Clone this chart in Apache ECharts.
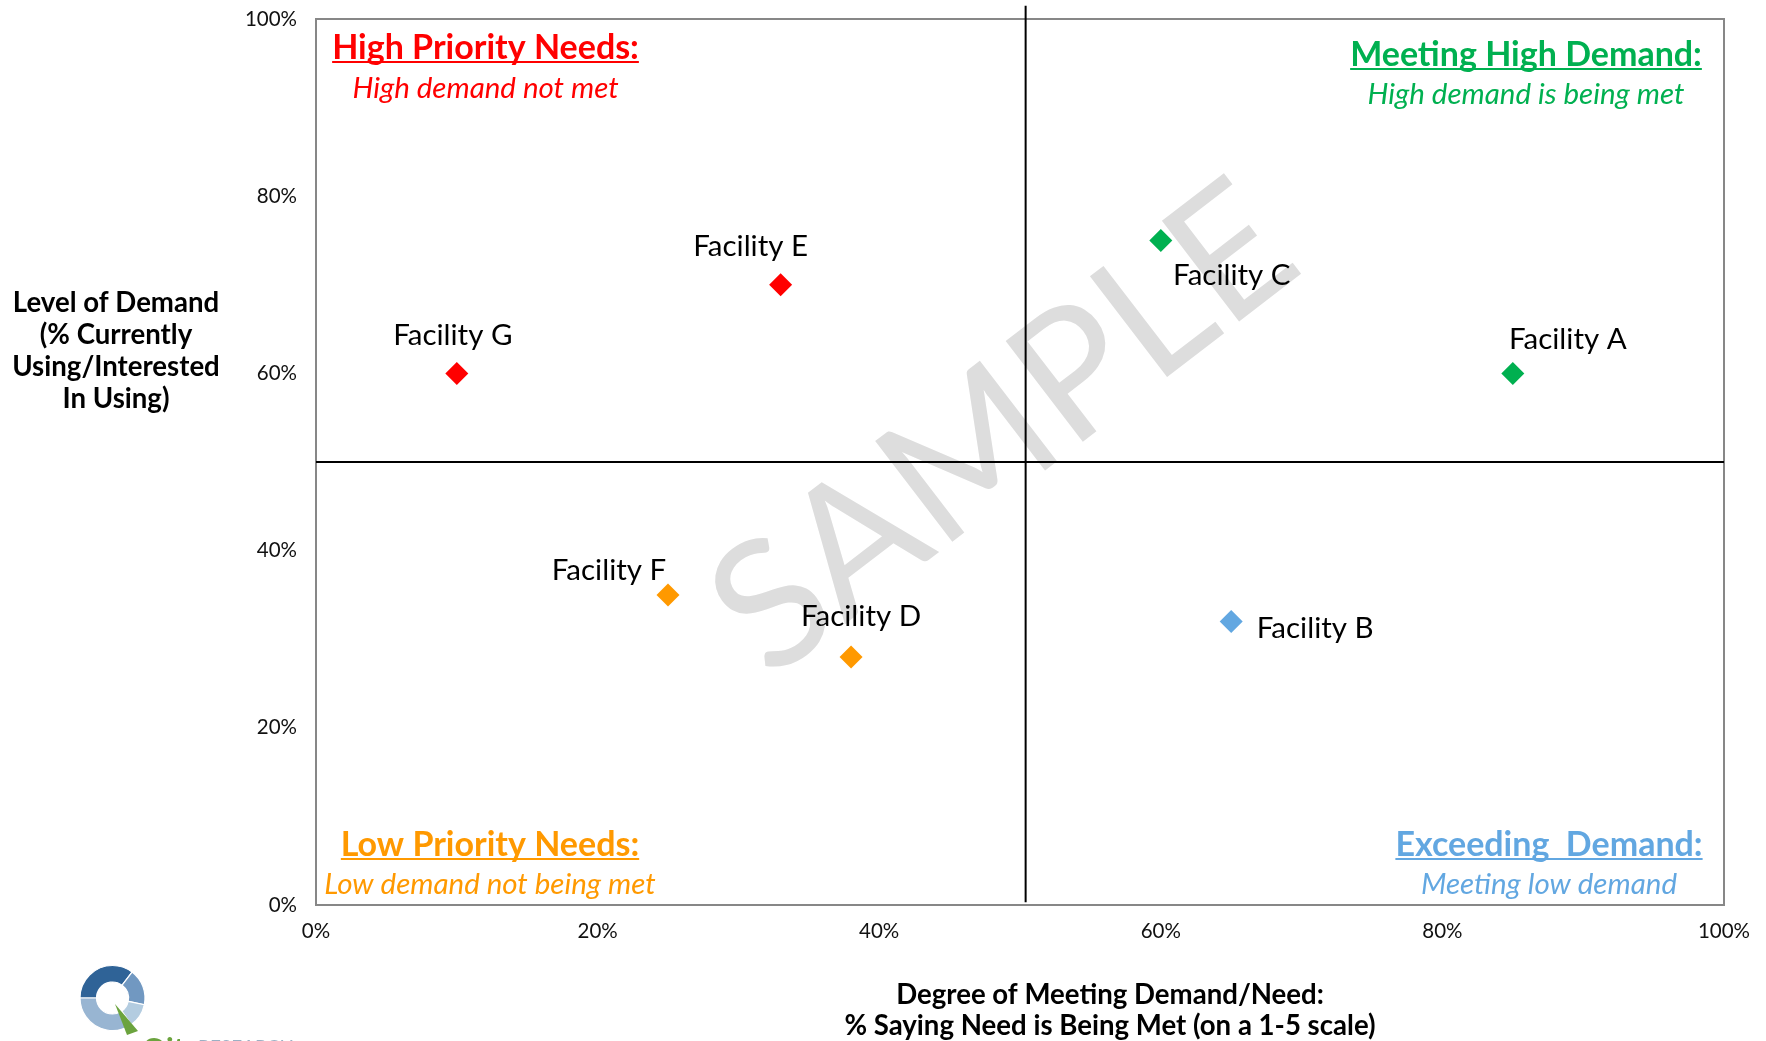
<!DOCTYPE html>
<html><head><meta charset="utf-8">
<script src="https://cdn.jsdelivr.net/npm/echarts@6/dist/echarts.min.js"></script>
<style>html,body{margin:0;padding:0;background:#fff}#chart{width:1766px;height:1041px}</style>
</head><body><div id="chart"></div>
<script>
// ---------------- DATA ----------------
const facilities = ['Facility A', 'Facility B', 'Facility C', 'Facility D', 'Facility E', 'Facility F', 'Facility G'];
const metPct     = [85, 65, 60, 38, 33, 25, 10];   // x: % saying need is being met
const demandPct  = [60, 32, 75, 28, 70, 35, 60];   // y: % currently using / interested
const tickValues = [0, 20, 40, 60, 80, 100];
const tickLabels = ['0%', '20%', '40%', '60%', '80%', '100%'];
const dividerMet = 50.4;
const dividerDemand = 50;
const dividerMetSpan = [0.3, 101.5];
const quadrantTitles    = ['High Priority Needs:', 'Meeting High Demand:', 'Low Priority Needs:', 'Exceeding  Demand:'];
const quadrantSubtitles = ['High demand not met', 'High demand is being met', 'Low demand not being met', 'Meeting low demand'];
const yAxisTitle = ['Level of Demand', '(% Currently', 'Using/Interested', 'In Using)'];
const xAxisTitle = ['Degree of Meeting Demand/Need:', '% Saying Need is Being Met (on a 1-5 scale)'];
const watermarkText = 'SAMPLE';
const logoWord = 'eQity';
const logoWord2 = 'RESEARCH';

// ---------------- STYLES ----------------
const FONT = 'Lato, "Open Sans", sans-serif';
const COLORS = { highUnmet: '#FF0000', highMet: '#00B050', lowUnmet: '#FF9900', lowMet: '#62A7E1' };
function quadColor(x, y) {
  if (y >= 50) return x >= 50 ? COLORS.highMet : COLORS.highUnmet;
  return x >= 50 ? COLORS.lowMet : COLORS.lowUnmet;
}
const LABEL_OFFSETS = [[55, -34], [84, 7], [71, 35], [10, -40], [-30, -38], [-59, -24], [-4, -38]];
const QUAD_LAYOUT = [
  { cx: 485.5, titleBase: 58,  subBase: 97,  color: COLORS.highUnmet },
  { cx: 1526,  titleBase: 65,  subBase: 103, color: COLORS.highMet },
  { cx: 490,   titleBase: 855, subBase: 893, color: COLORS.lowUnmet },
  { cx: 1549,  titleBase: 855, subBase: 893, color: COLORS.lowMet }
];
const TITLE_FS = 34, SUB_FS = 29.5, AXIS_TITLE_FS = 27.6, POINT_LABEL_FS = 29.5;
const MID_K = 0.29;

const measureCtx = document.createElement('canvas').getContext('2d');
function textWidth(str, font) { measureCtx.font = font; return measureCtx.measureText(str).width; }

// ---------------- GRAPHICS ----------------
const graphics = [];
// watermark
graphics.push({
  type: 'text', x: 1004, y: 430, rotation: 37.5 * Math.PI / 180, z: 1, silent: true,
  style: { text: watermarkText, font: '177px ' + FONT, fill: '#DDDDDD', align: 'center', verticalAlign: 'middle' }
});
// quadrant labels
QUAD_LAYOUT.forEach((q, i) => {
  const tFont = 'bold ' + TITLE_FS + 'px ' + FONT;
  const sFont = 'italic ' + SUB_FS + 'px ' + FONT;
  const w = textWidth(quadrantTitles[i], tFont);
  graphics.push({ type: 'text', x: q.cx, y: q.titleBase - MID_K * TITLE_FS, z: 10,
    style: { text: quadrantTitles[i], font: tFont, fill: q.color, align: 'center', verticalAlign: 'middle' } });
  graphics.push({ type: 'rect', z: 10, shape: { x: q.cx - w / 2, y: q.titleBase + 3, width: w, height: 2 },
    style: { fill: q.color } });
  graphics.push({ type: 'text', x: q.cx, y: q.subBase - MID_K * SUB_FS, z: 10,
    style: { text: quadrantSubtitles[i], font: sFont, fill: q.color, align: 'center', verticalAlign: 'middle' } });
});
// axis titles
const yTitleY = [303, 335, 367, 399];
yAxisTitle.forEach((t, i) => graphics.push({ type: 'text', x: 116, y: yTitleY[i], z: 10,
  style: { text: t, font: 'bold ' + AXIS_TITLE_FS + 'px ' + FONT, fill: '#000', align: 'center', verticalAlign: 'middle' } }));
const xTitleY = [995, 1026];
xAxisTitle.forEach((t, i) => graphics.push({ type: 'text', x: 1110, y: xTitleY[i], z: 10,
  style: { text: t, font: 'bold ' + AXIS_TITLE_FS + 'px ' + FONT, fill: '#000', align: 'center', verticalAlign: 'middle' } }));
// logo
const LOGO = { cx: 112.5, cy: 998, r: 32.5, r0: 16 };
const logoSegs = [[180, 307, '#2F6397'], [307, 372, '#7198C1'], [372, 415, '#B3CCE0'], [415, 540, '#98B5D2']];
logoSegs.forEach(s => graphics.push({ type: 'sector', z: 5, silent: true,
  shape: { cx: LOGO.cx, cy: LOGO.cy, r: LOGO.r, r0: LOGO.r0, startAngle: s[0] * Math.PI / 180, endAngle: s[1] * Math.PI / 180, clockwise: true },
  style: { fill: s[2], stroke: '#fff', lineWidth: 1.2 } }));
graphics.push({ type: 'polygon', z: 6, silent: true,
  shape: { points: [[115, 1004], [127, 1035], [138, 1031]] }, style: { fill: '#6BA33E' } });
graphics.push({ type: 'text', x: 126, y: 1035, z: 6, silent: true,
  style: { text: logoWord, font: 'bold 30px ' + FONT, fill: '#6BA33E', verticalAlign: 'top' } });
graphics.push({ type: 'text', x: 198, y: 1038, z: 6, silent: true,
  style: { text: logoWord2, font: '19px ' + FONT, fill: '#9BB0C4', verticalAlign: 'top' } });

// ---------------- CHART ----------------
const chart = echarts.init(document.getElementById('chart'), null, { renderer: 'canvas' });
const points = facilities.map((name, i) => ({
  name: name,
  value: [metPct[i], demandPct[i]],
  itemStyle: { color: quadColor(metPct[i], demandPct[i]), opacity: 1 },
  label: { offset: LABEL_OFFSETS[i] }
}));
function tickFmt(v) { const k = tickValues.indexOf(v); return k >= 0 ? tickLabels[k] : ''; }
const axisCommon = {
  type: 'value', min: 0, max: 100, interval: 20,
  axisLine: { show: true, lineStyle: { color: '#878787', width: 2 } },
  axisTick: { show: false },
  splitLine: { show: false }
};
chart.setOption({
  animation: false,
  backgroundColor: '#fff',
  grid: { left: 316, right: 42, top: 19, bottom: 136, show: true, borderColor: '#878787', borderWidth: 2, backgroundColor: 'transparent' },
  xAxis: Object.assign({}, axisCommon, { axisLabel: { formatter: tickFmt, fontSize: 20.5, fontFamily: FONT, color: '#111', margin: 16 } }),
  yAxis: Object.assign({}, axisCommon, { axisLabel: { formatter: tickFmt, fontSize: 20.5, fontFamily: FONT, color: '#111', margin: 19 } }),
  graphic: graphics,
  series: [
    {
      type: 'line',
      clip: false,
      z: 2,
      silent: true,
      symbol: 'none',
      lineStyle: { color: '#000', width: 2 },
      data: [[dividerMet, dividerMetSpan[0]], [dividerMet, dividerMetSpan[1]]]
    },
    {
      type: 'scatter',
      clip: false,
      z: 3,
      symbol: 'diamond',
      symbolSize: 23,
      data: points,
      label: { show: true, position: 'inside', formatter: '{b}', fontSize: POINT_LABEL_FS, fontFamily: FONT, color: '#000' },
      markLine: {
        silent: true, symbol: 'none', animation: false,
        label: { show: false },
        lineStyle: { color: '#000', width: 2, type: 'solid' },
        data: [
          [{ coord: [0, dividerDemand] }, { coord: [100, dividerDemand] }]
        ]
      }
    }
  ]
});
</script>
</body></html>
